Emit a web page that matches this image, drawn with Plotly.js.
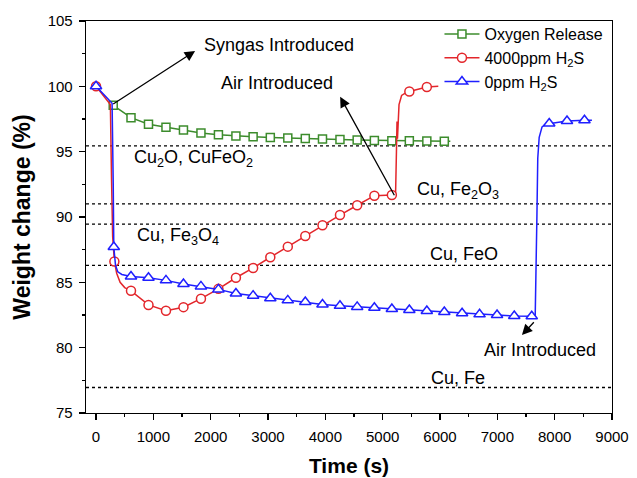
<!DOCTYPE html>
<html>
<head>
<meta charset="utf-8">
<script src="https://cdn.plot.ly/plotly-3.0.1.min.js"></script>
<style>
  html, body { margin: 0; padding: 0; background: #fff; }
  #chart { width: 637px; height: 478px; }
</style>
</head>
<body>
<div id="chart"></div>
<script>
// Regular TGA readings (drawn with markers), time in s, weight in %
const oxyTime = [300, 610, 915, 1220, 1525, 1830, 2135, 2440, 2740, 3040, 3345, 3650, 3950, 4255, 4555, 4855, 5160, 5465, 5770, 6075];
const oxyWeight = [98.55, 97.6, 97.1, 96.87, 96.65, 96.42, 96.3, 96.2, 96.14, 96.09, 96.04, 96.0, 95.96, 95.94, 95.9, 95.86, 95.84, 95.83, 95.82, 95.8];

const h2sTime = [0, 320, 610, 915, 1220, 1525, 1830, 2135, 2440, 2740, 3040, 3345, 3650, 3950, 4255, 4555, 4855, 5160, 5465, 5770];
const h2sWeight = [100.0, 86.6, 84.35, 83.27, 82.82, 83.1, 83.75, 84.5, 85.35, 86.1, 86.92, 87.73, 88.55, 89.37, 90.15, 90.9, 91.63, 91.68, 99.6, 99.95];

const noH2sTime = [0, 310, 610, 915, 1220, 1525, 1830, 2135, 2440, 2740, 3040, 3345, 3650, 3950, 4255, 4555, 4855, 5160, 5465, 5770, 6075, 6385, 6690, 6995, 7295, 7600, 7905, 8215, 8520];
const noH2sWeight = [100.0, 87.7, 85.45, 85.35, 85.15, 84.87, 84.69, 84.46, 84.15, 83.98, 83.78, 83.62, 83.49, 83.3, 83.2, 83.12, 83.05, 82.96, 82.88, 82.8, 82.73, 82.63, 82.55, 82.5, 82.42, 82.4, 97.15, 97.35, 97.4];

// Fast transients recorded between the regular readings (gas switching)
const oxyStepTime = [6180];
const oxyStepWeight = [95.8];
const h2sStepTime = [250, 270, 290, 360, 420, 500, 5225, 5240, 5250, 5258, 5268, 5285, 5330, 5400, 5970];
const h2sStepWeight = [98.6, 93.0, 88.5, 85.7, 85.0, 84.6, 91.8, 95.0, 97.3, 96.0, 97.2, 98.6, 99.3, 99.5, 100.0];
const noH2sStepTime = [280, 300, 340, 380, 450, 7660, 7690, 7705, 7730, 7780, 7840, 8650];
const noH2sStepWeight = [98.7, 92.5, 86.3, 85.8, 85.6, 82.3, 90.0, 94.5, 96.1, 96.9, 97.1, 97.4];

// Phase boundaries (weight %)
const phaseLevels = [95.45, 91.0, 89.45, 86.3, 76.95];
const seriesNames = ['Oxygen Release', '4000ppm H<sub>2</sub>S', '0ppm H<sub>2</sub>S'];

// Merge regular readings and transients into one time-ordered path;
// only the regular readings get a visible marker.
function buildPath(t, w, st, sw, color) {
  const pts = [];
  t.forEach((v, i) => pts.push({ t: v, w: w[i], m: true }));
  st.forEach((v, i) => pts.push({ t: v, w: sw[i], m: false }));
  pts.sort((a, b) => a.t - b.t);
  return {
    x: pts.map(p => p.t),
    y: pts.map(p => p.w),
    fill: pts.map(p => p.m ? '#ffffff' : 'rgba(0,0,0,0)'),
    edge: pts.map(p => p.m ? color : 'rgba(0,0,0,0)')
  };
}

const GREEN = '#3c8c2c', RED = '#e3262b', BLUE = '#1f1fff';

function makeTrace(path, name, color, symbol, size) {
  return {
    type: 'scatter', mode: 'lines+markers', name: name,
    x: path.x, y: path.y,
    line: { color: color, width: 1.5 },
    marker: { symbol: symbol, size: size, color: path.fill,
              line: { color: path.edge, width: 1.5 } },
    hoverinfo: 'skip'
  };
}

const traces = [
  makeTrace(buildPath(oxyTime, oxyWeight, oxyStepTime, oxyStepWeight, GREEN), seriesNames[0], GREEN, 'square', 8),
  makeTrace(buildPath(h2sTime, h2sWeight, h2sStepTime, h2sStepWeight, RED), seriesNames[1], RED, 'circle', 9),
  makeTrace(buildPath(noH2sTime, noH2sWeight, noH2sStepTime, noH2sStepWeight, BLUE), seriesNames[2], BLUE, 'triangle-up', 10)
];

const shapes = phaseLevels.map(v => ({
  type: 'line', xref: 'paper', x0: 0, x1: 1, yref: 'y', y0: v, y1: v,
  line: { color: '#000', width: 1.3, dash: 'dot' }, layer: 'below'
}));

const FONT = 'Liberation Sans, Arial, sans-serif';
const labelFont = { family: FONT, size: 18, color: '#000' };

function label(text, x, y) {
  return { text: text, x: x, y: y, xref: 'x', yref: 'y', showarrow: false,
           xanchor: 'center', yanchor: 'middle', font: labelFont };
}
function arrow(x0, y0, x1, y1) {
  return { text: '', x: x1, y: y1, ax: x0, ay: y0, xref: 'x', yref: 'y',
           axref: 'x', ayref: 'y', showarrow: true, arrowhead: 2,
           arrowsize: 1.6, arrowwidth: 1.3, arrowcolor: '#000',
           standoff: 0, startstandoff: 0 };
}

const annotations = [
  label('Syngas Introduced', 3194, 103.16),
  label('Air Introduced', 3154, 100.23),
  label('Cu<sub>2</sub>O, CuFeO<sub>2</sub>', 1705, 94.5),
  label('Cu, Fe<sub>3</sub>O<sub>4</sub>', 1428, 88.5),
  label('Cu, Fe<sub>2</sub>O<sub>3</sub>', 6315, 92.0),
  label('Cu, FeO', 6426, 87.14),
  label('Air Introduced', 7749, 79.82),
  label('Cu, Fe', 6309, 77.65),
  arrow(274, 98.57, 1728, 102.7),
  arrow(5218, 91.55, 4258, 99.2),
  arrow(7661, 82.06, 7429, 80.97)
];

const axisCommon = {
  showline: true, mirror: true, linecolor: '#000', linewidth: 1.3,
  ticks: 'outside', ticklen: 6, tickwidth: 1.3, tickcolor: '#000',
  showgrid: false, zeroline: false,
  tickfont: { family: FONT, size: 15, color: '#000' }
};

const layout = {
  width: 637, height: 478,
  margin: { l: 86, r: 25, t: 21, b: 65 },
  paper_bgcolor: '#fff', plot_bgcolor: '#fff',
  showlegend: true,
  legend: { x: 0.672, y: 1.01, xanchor: 'left', yanchor: 'top',
            bgcolor: 'rgba(0,0,0,0)', borderwidth: 0, itemwidth: 35,
            tracegroupgap: 0, font: { family: FONT, size: 16, color: '#000' } },
  xaxis: Object.assign({}, axisCommon, {
    range: [-175, 9000], tickmode: 'linear', tick0: 0, dtick: 1000,
    ticklabelstandoff: 4,
    minor: { dtick: 500, ticks: 'outside', ticklen: 3, tickwidth: 1.3, tickcolor: '#000', showgrid: false },
    title: { text: '<b>Time (s)</b>', standoff: 14, font: { family: FONT, size: 21, color: '#000' } }
  }),
  yaxis: Object.assign({}, axisCommon, {
    range: [75, 105], tickmode: 'linear', tick0: 75, dtick: 5,
    ticklabelstandoff: 3,
    minor: { dtick: 2.5, ticks: 'outside', ticklen: 3, tickwidth: 1.3, tickcolor: '#000', showgrid: false },
    title: { text: '<b>Weight change (%)</b>', standoff: 10, font: { family: FONT, size: 23, color: '#000' } }
  }),
  shapes: shapes,
  annotations: annotations
};

Plotly.newPlot('chart', traces, layout, { displayModeBar: false, staticPlot: true });
</script>
</body>
</html>
